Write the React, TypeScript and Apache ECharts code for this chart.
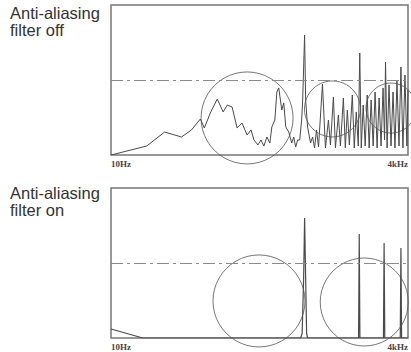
import React, { useEffect, useRef } from "react";
import * as echarts from "echarts";

// ---- data ----
const panelTitles = ["Anti-aliasing\nfilter off", "Anti-aliasing\nfilter on"];
const axisMinHz = 10;
const axisMaxHz = 4000;
const tickLabels = ["10Hz", "4kHz"];
const thresholdLevel = 50;

// [frequency Hz, level %] — filter off
const topSpectrum: [number, number][] = [
  [10, 0], [490, 6], [730, 15.3], [957, 12], [1091, 16.7], [1211, 24], [1264, 18],
  [1344, 28], [1437, 37.3], [1517, 28.7], [1571, 33.3], [1637, 32], [1704, 18],
  [1771, 21.3], [1838, 13.3], [1891, 16.7], [1931, 10], [1984, 6.7], [2024, 10],
  [2064, 6], [2104, 12], [2144, 8], [2171, 18.7], [2211, 23.3], [2238, 42],
  [2264, 44.7], [2304, 30], [2331, 34.7], [2358, 18.7], [2398, 15.3], [2438, 8],
  [2465, 12], [2491, 5.3], [2518, 10], [2545, 10], [2571, 23.3], [2585, 36.7],
  [2611, 80], [2625, 36.7], [2651, 18.7], [2691, 8], [2718, 12], [2745, 4.7],
  [2771, 16.7], [2798, 5.3], [2851, 47.3], [2891, 4.7], [2931, 23.3], [2958, 6.7],
  [2998, 38.7], [3025, 4.7], [3065, 26.7], [3092, 6], [3132, 38], [3158, 4.7],
  [3185, 30], [3212, 6.7], [3252, 40], [3278, 4.7], [3305, 28.7], [3332, 6],
  [3352, 68], [3372, 4.7], [3398, 33.3], [3425, 6], [3452, 40], [3478, 4.7],
  [3505, 36.7], [3532, 6], [3558, 42], [3585, 4.7], [3612, 38], [3638, 6],
  [3665, 44.7], [3685, 10], [3698, 62], [3719, 4.7], [3745, 46.7], [3772, 6],
  [3799, 42], [3825, 4.7], [3852, 50], [3879, 6], [3905, 58.7], [3932, 4.7],
  [3959, 53.3], [3985, 6], [4000, 43.3],
];

// [frequency Hz, level %] — filter on
const bottomSpectrum: [number, number][] = [
  [10, 6], [437, 0], [2558, 0], [2578, 3], [2598, 40], [2611, 80], [2625, 40],
  [2638, 3], [2651, 0], [3336, 0], [3345, 69.3], [3354, 0], [3670, 0],
  [3679, 63.3], [3688, 0], [3896, 0], [3905, 60], [3914, 0], [4000, 0],
];

// circle annotation centres [Hz, level %]
const topCircleCentres: [number, number][] = [[1838, 24.7], [2985, 30.7], [3772, 31.3]];
const bottomCircleCentres: [number, number][] = [[1998, 24.7], [3412, 24]];

export default function App() {
  const ref = useRef<HTMLDivElement>(null);
  useEffect(() => {
    if (!ref.current) return;
    const chart = echarts.init(ref.current, undefined, { renderer: "svg" });
    const topCircleSizes = [92, 56, 50];
    const bottomCircleSizes = [92, 88];
    const lineColor = "#4a4a4a";
    const grids = [
      { left: 111, top: 5, width: 299, height: 150 },
      { left: 111, top: 188, width: 299, height: 150 },
    ].map((g) => ({
      ...g,
      show: true,
      borderColor: "#777",
      borderWidth: 1.5,
      backgroundColor: "transparent",
    }));
    const xAxes = [0, 1].map((i) => ({
      type: "value",
      gridIndex: i,
      min: axisMinHz,
      max: axisMaxHz,
      interval: axisMaxHz - axisMinHz,
      axisLine: { show: false },
      axisTick: { show: false },
      splitLine: { show: false },
      axisLabel: {
        formatter: (v: number) =>
          v === axisMinHz ? tickLabels[0] : v === axisMaxHz ? tickLabels[1] : "",
        alignMinLabel: "left",
        alignMaxLabel: "right",
        fontFamily: "Liberation Serif",
        fontWeight: "bold",
        fontSize: 9,
        color: "#444",
        margin: 4,
      },
    }));
    const yAxes = [0, 1].map((i) => ({
      type: "value",
      gridIndex: i,
      min: 0,
      max: 100,
      show: false,
    }));
    const markLine = {
      silent: true,
      symbol: ["none", "none"],
      label: { show: false },
      lineStyle: { type: [12, 4, 3, 4], color: "#8a8a8a", width: 1 },
      data: [{ yAxis: thresholdLevel }],
    };
    const circleSeries = (idx: number, centres: [number, number][], sizes: number[]) => ({
      type: "scatter",
      xAxisIndex: idx,
      yAxisIndex: idx,
      clip: false,
      silent: true,
      symbol: "circle",
      symbolSize: (_v: any, p: any) => sizes[p.dataIndex],
      itemStyle: { color: "rgba(0,0,0,0)", borderColor: "#555", borderWidth: 1 },
      data: centres,
      z: 3,
    });
    chart.setOption({
      animation: false,
      backgroundColor: "#fff",
      title: [
        { text: panelTitles[0], left: 10, top: 4 },
        { text: panelTitles[1], left: 10, top: 184 },
      ].map((t) => ({
        ...t,
        padding: 0,
        textStyle: {
          fontFamily: "Liberation Sans",
          fontWeight: "normal",
          fontSize: 16.5,
          lineHeight: 17,
          color: "#333",
        },
      })),
      grid: grids,
      xAxis: xAxes,
      yAxis: yAxes,
      series: [
        {
          type: "line",
          xAxisIndex: 0,
          yAxisIndex: 0,
          data: topSpectrum,
          symbol: "none",
          lineStyle: { color: lineColor, width: 1 },
          markLine,
          z: 2,
        },
        {
          type: "line",
          xAxisIndex: 1,
          yAxisIndex: 1,
          data: bottomSpectrum,
          symbol: "none",
          lineStyle: { color: lineColor, width: 1.2 },
          markLine,
          z: 2,
        },
        circleSeries(0, topCircleCentres, topCircleSizes),
        circleSeries(1, bottomCircleCentres, bottomCircleSizes),
      ],
    });
    return () => chart.dispose();
  }, []);
  return (
    <div
      ref={ref}
      style={{ position: "fixed", left: 0, top: 0, width: 411, height: 352, background: "#fff" }}
    />
  );
}
